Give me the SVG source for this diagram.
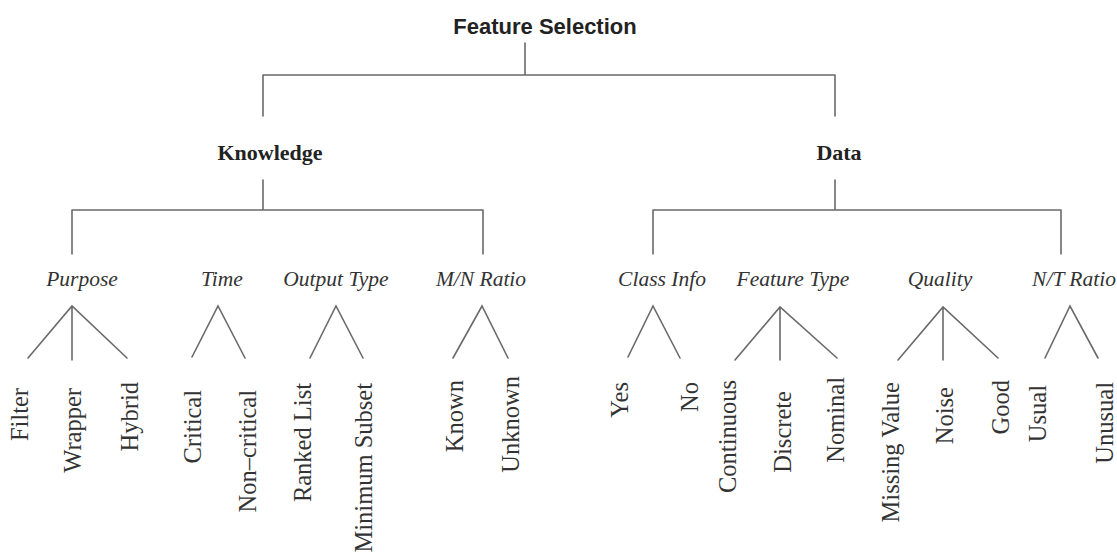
<svg xmlns="http://www.w3.org/2000/svg" width="1117" height="558" viewBox="0 0 1117 558">
<style>
.c{stroke:#6a6a6a;stroke-width:1.6;fill:none;stroke-linecap:round}
.root{font-family:"Liberation Sans",Arial,sans-serif;font-weight:bold;font-size:22px;fill:#222;text-anchor:middle}
.l1{font-family:"Liberation Serif","Times New Roman",serif;font-weight:bold;font-size:22px;fill:#222;text-anchor:middle}
.l2{font-family:"Liberation Serif","Times New Roman",serif;font-style:italic;font-size:21.5px;fill:#333;text-anchor:middle}
.lf{font-family:"Liberation Serif","Times New Roman",serif;font-size:24.5px;fill:#333;text-anchor:end}
</style>
<rect width="1117" height="558" fill="#fff"/>
<g id="connectors" class="c">
<path d="M525,43V75M263,75H835M263,75V116M835,75V116"/>
<path d="M263,180V210M72,210H483M72,210V254M483,210V254"/>
<path d="M835,180V210M653,210H1061M653,210V254M1061,210V254"/>
<path d="M28,358L72,306L127,358M72,306V360"/>
<path d="M192,357L218,306L245,358"/>
<path d="M310,358L336,306L363,358"/>
<path d="M453,358L482,306L508,358"/>
<path d="M628,357L653,306L680,358"/>
<path d="M735,360L780,307L837,358M780,307V360"/>
<path d="M898,360L943,307L998,358M943,307V360"/>
<path d="M1045,358L1070,306L1098,358"/>
</g>
<g id="n-feature-selection"><text class="root" x="545" y="34">Feature Selection</text></g>
<g id="n-knowledge"><text class="l1" x="270" y="160">Knowledge</text></g>
<g id="n-data"><text class="l1" x="839" y="160">Data</text></g>
<g id="n-purpose"><text class="l2" x="82" y="286">Purpose</text></g>
<g id="n-time"><text class="l2" x="222" y="286">Time</text></g>
<g id="n-output-type"><text class="l2" x="336" y="286">Output Type</text></g>
<g id="n-mn-ratio"><text class="l2" x="481" y="286">M/N Ratio</text></g>
<g id="n-class-info"><text class="l2" x="662" y="286">Class Info</text></g>
<g id="n-feature-type"><text class="l2" x="793" y="286">Feature Type</text></g>
<g id="n-quality"><text class="l2" x="940" y="286">Quality</text></g>
<g id="n-nt-ratio"><text class="l2" x="1074" y="286">N/T Ratio</text></g>
<g id="n-filter"><text class="lf" transform="translate(28,388) rotate(-90)">Filter</text></g>
<g id="n-wrapper"><text class="lf" transform="translate(81,388) rotate(-90)">Wrapper</text></g>
<g id="n-hybrid"><text class="lf" transform="translate(138,382) rotate(-90)">Hybrid</text></g>
<g id="n-critical"><text class="lf" transform="translate(201,390) rotate(-90)">Critical</text></g>
<g id="n-noncritical"><text class="lf" transform="translate(256,390) rotate(-90)">Non–critical</text></g>
<g id="n-ranked-list"><text class="lf" transform="translate(311,383) rotate(-90)">Ranked List</text></g>
<g id="n-minimum-subset"><text class="lf" transform="translate(372,383) rotate(-90)">Minimum Subset</text></g>
<g id="n-known"><text class="lf" transform="translate(463,380) rotate(-90)">Known</text></g>
<g id="n-unknown"><text class="lf" transform="translate(519,376) rotate(-90)">Unknown</text></g>
<g id="n-yes"><text class="lf" transform="translate(628,382) rotate(-90)">Yes</text></g>
<g id="n-no"><text class="lf" transform="translate(698,382) rotate(-90)">No</text></g>
<g id="n-continuous"><text class="lf" transform="translate(736,380) rotate(-90)">Continuous</text></g>
<g id="n-discrete"><text class="lf" transform="translate(791,391) rotate(-90)">Discrete</text></g>
<g id="n-nominal"><text class="lf" transform="translate(844,377) rotate(-90)">Nominal</text></g>
<g id="n-missing-value"><text class="lf" transform="translate(899,382) rotate(-90)">Missing Value</text></g>
<g id="n-noise"><text class="lf" transform="translate(953,387) rotate(-90)">Noise</text></g>
<g id="n-good"><text class="lf" transform="translate(1009,380) rotate(-90)">Good</text></g>
<g id="n-usual"><text class="lf" transform="translate(1046,385) rotate(-90)">Usual</text></g>
<g id="n-unusual"><text class="lf" transform="translate(1113,382) rotate(-90)">Unusual</text></g>
</svg>
